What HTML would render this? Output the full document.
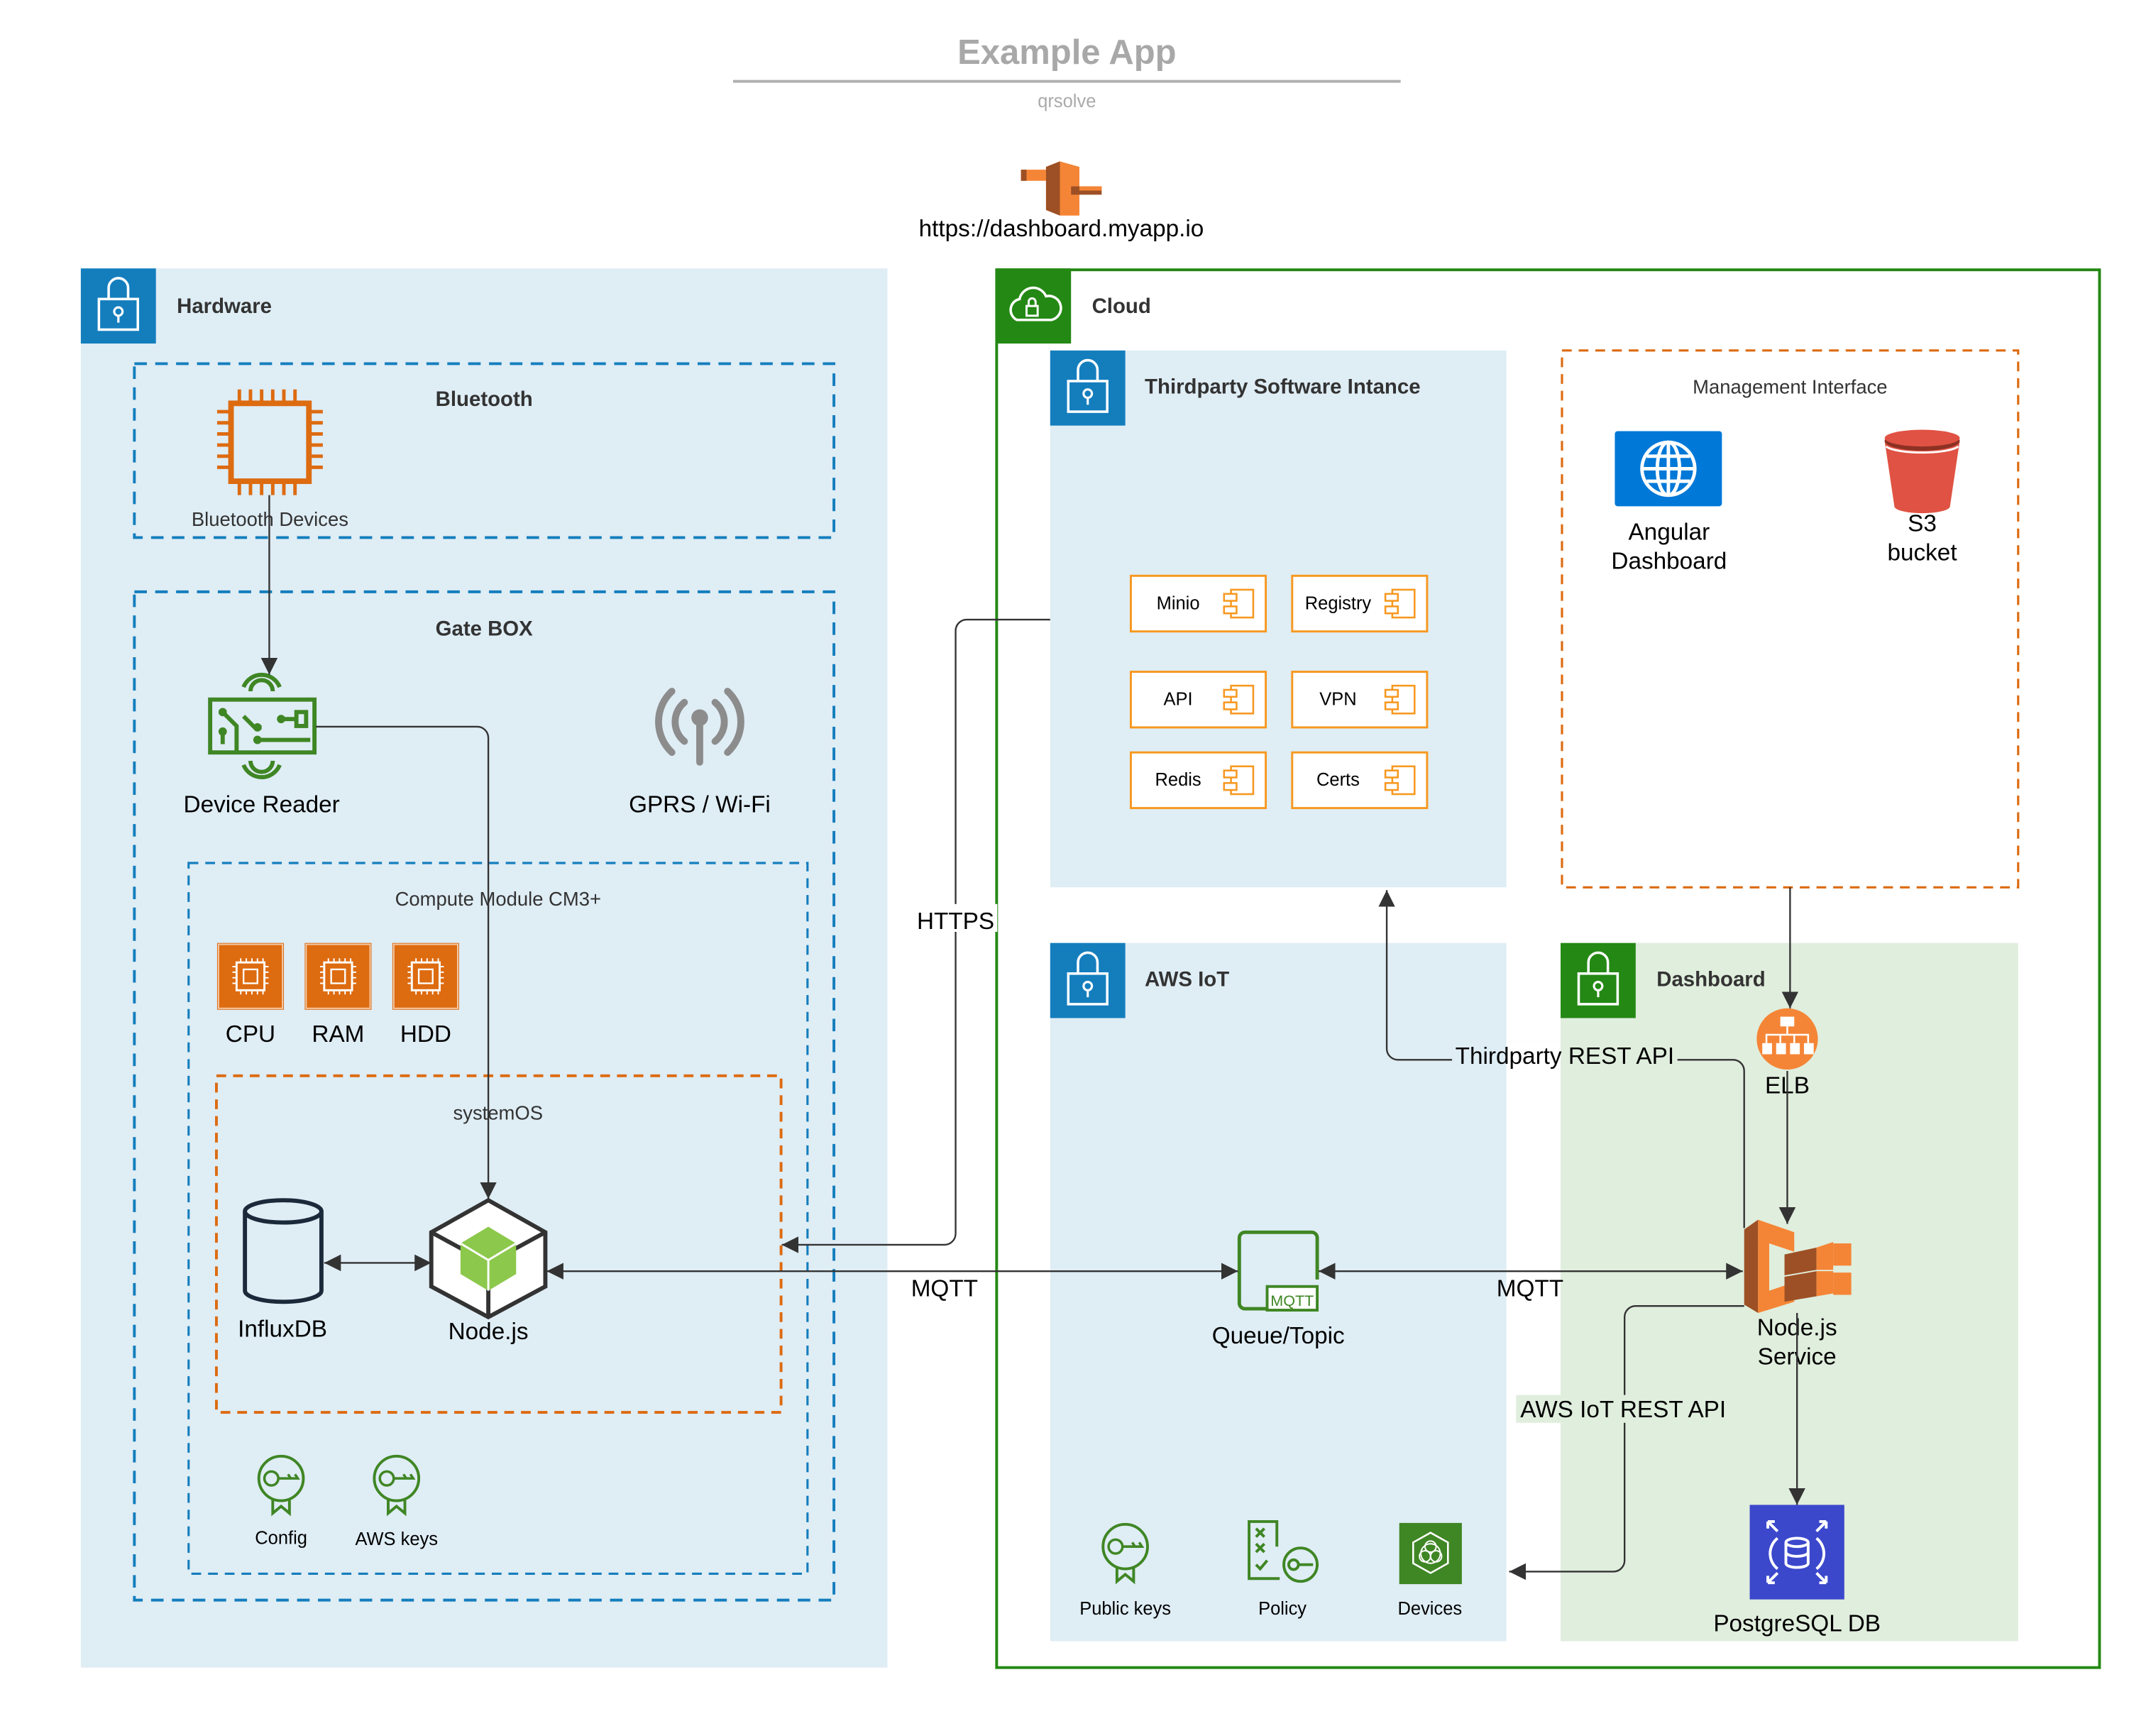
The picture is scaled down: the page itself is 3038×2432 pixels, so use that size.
<!DOCTYPE html>
<html><head><meta charset="utf-8"><style>
html,body{margin:0;padding:0;background:#fff;}
svg{display:block;}
text{font-family:"Liberation Sans",Arial,sans-serif;}
</style></head><body>
<svg width="3038" height="2432" viewBox="0 0 1550 1241" xmlns="http://www.w3.org/2000/svg">
<defs>
<marker id="ar" viewBox="0 0 10 10" refX="10" refY="5" markerWidth="12" markerHeight="12" markerUnits="userSpaceOnUse" orient="auto-start-reverse"><path d="M0,0 L10,5 L0,10 z" fill="#333"/></marker>
<g id="lock"><path d="M20,22 v-8 a7,7 0 0 1 14,0 v8" fill="none" stroke="#fff" stroke-width="1.8"/><rect x="13" y="22" width="28" height="22" fill="none" stroke="#fff" stroke-width="1.8"/><circle cx="27" cy="31" r="3" fill="none" stroke="#fff" stroke-width="1.6"/><line x1="27" y1="34" x2="27" y2="39" stroke="#fff" stroke-width="1.6"/></g>
<g id="comp"><rect x="0" y="0" width="97" height="40" fill="#fff" stroke="#f7981f" stroke-width="1.5"/><rect x="72" y="10" width="16" height="20" fill="none" stroke="#f7981f" stroke-width="1.3"/><rect x="67" y="13" width="9" height="5" fill="#fff" stroke="#f7981f" stroke-width="1.3"/><rect x="67" y="22" width="9" height="5" fill="#fff" stroke="#f7981f" stroke-width="1.3"/></g>
<g id="chip"><rect x="0" y="0" width="48" height="48" fill="#dd6b10"/><rect x="1" y="1" width="46" height="46" fill="none" stroke="#f3c9a6" stroke-width="1"/><rect x="14" y="14" width="20" height="20" fill="none" stroke="#fff" stroke-width="1.5"/><rect x="19" y="19" width="10" height="10" fill="none" stroke="#fff" stroke-width="1.2"/><path d="M17,14v-3M21,14v-3M25,14v-3M29,14v-3M33,14v-3M17,34v3M21,34v3M25,34v3M29,34v3M33,34v3M14,17h-3M14,21h-3M14,25h-3M14,29h-3M34,17h3M34,21h3M34,25h3M34,29h3" stroke="#fff" stroke-width="1"/></g>
<g id="cert"><circle cx="17" cy="17" r="16" fill="none" stroke="#3f8624" stroke-width="2"/><circle cx="10" cy="17" r="5" fill="none" stroke="#3f8624" stroke-width="1.8"/><path d="M15,17 h14 l-2,-3 m-3,3 l-2,-3" fill="none" stroke="#3f8624" stroke-width="1.8"/><path d="M11,32 v10 l6,-5 l6,5 v-10" fill="none" stroke="#3f8624" stroke-width="2"/></g>
</defs>

<text x="767" y="46" text-anchor="middle" font-size="25" font-weight="bold" fill="#a8a8a8">Example App</text>
<line x1="527" y1="58.5" x2="1007" y2="58.5" stroke="#b0b0b0" stroke-width="2"/>
<text x="767" y="77" text-anchor="middle" font-size="13" fill="#aaa">qrsolve</text>

<g>
<rect x="734" y="122" width="20" height="8" fill="#f58536"/><rect x="734" y="122" width="4" height="8" fill="#9d5025"/>
<polygon points="752,120 762,116 776,120 776,155 762,155 752,151" fill="#f58536"/>
<polygon points="752,120 762,116 762,155 752,151" fill="#9d5025"/>
<rect x="770" y="134" width="22" height="6" fill="#9d5025"/><rect x="776" y="134" width="16" height="3" fill="#f58536"/>
</g>
<text x="763" y="170" text-anchor="middle" font-size="17" fill="#000">https://dashboard.myapp.io</text>

<rect x="58" y="193" width="580" height="1006" fill="#dfedf5"/>
<rect x="58" y="193" width="54" height="54" fill="#147ebd"/>
<use href="#lock" x="58" y="193"/>
<text x="127" y="225" font-size="15" font-weight="bold" fill="#333">Hardware</text>

<rect x="96.5" y="261.5" width="503" height="125" fill="none" stroke="#147ebd" stroke-width="2" stroke-dasharray="9,6"/>
<text x="348" y="292" text-anchor="middle" font-size="15" font-weight="bold" fill="#333">Bluetooth</text>
<g stroke="#dd6b10" stroke-width="4" fill="none">
<rect x="166" y="290" width="56" height="56"/>
<path d="M172,290v-10M180,290v-10M188,290v-10M196,290v-10M204,290v-10M212,290v-10M172,346v10M180,346v10M188,346v10M196,346v10M204,346v10M212,346v10M166,296h-10M166,304h-10M166,312h-10M166,320h-10M166,328h-10M166,336h-10M222,296h10M222,304h10M222,312h10M222,320h10M222,328h10M222,336h10" stroke-width="2.5"/>
</g>
<text x="194" y="378" text-anchor="middle" font-size="14" fill="#333">Bluetooth Devices</text>

<rect x="96.5" y="425.5" width="503" height="725" fill="none" stroke="#147ebd" stroke-width="2" stroke-dasharray="9,6"/>
<text x="348" y="457" text-anchor="middle" font-size="15" font-weight="bold" fill="#333">Gate BOX</text>

<g stroke="#3f8624" stroke-width="3" fill="none">
<rect x="151" y="503" width="75" height="38"/>
<path d="M175,494 a14,14 0 0 1 26,0 M180,497 a8,8 0 0 1 16,0 M175,550 a14,14 0 0 0 26,0 M180,547 a8,8 0 0 0 16,0"/>
<path d="M160,512 l10,10 v19 M175,515 l8,8 h5 M185,532 h38 M203,517 h10 M160,525 v10 M213,512 h7 v10 h-7z"/>
</g>
<g fill="#3f8624"><circle cx="160" cy="512" r="3"/><circle cx="185" cy="523" r="3"/><circle cx="185" cy="532" r="3"/><circle cx="160" cy="526" r="3"/><circle cx="202" cy="517" r="3"/></g>
<text x="188" y="584" text-anchor="middle" font-size="17" fill="#000">Device Reader</text>

<g stroke="#8c8c8c" stroke-width="5" fill="none" stroke-linecap="round">
<path d="M483,497 a30,30 0 0 0 0,44 M523,497 a30,30 0 0 1 0,44 M492,505 a18,18 0 0 0 0,28 M514,505 a18,18 0 0 1 0,28"/>
<line x1="503" y1="518" x2="503" y2="548"/>
</g>
<circle cx="503" cy="516" r="6" fill="#8c8c8c"/>
<text x="503" y="584" text-anchor="middle" font-size="17" fill="#000">GPRS / Wi-Fi</text>

<rect x="135.5" y="620.5" width="445" height="511" fill="none" stroke="#147ebd" stroke-width="1.6" stroke-dasharray="7,5"/>
<text x="358" y="651" text-anchor="middle" font-size="14" fill="#333">Compute Module CM3+</text>
<use href="#chip" x="156" y="678"/><use href="#chip" x="219" y="678"/><use href="#chip" x="282" y="678"/>
<text x="180" y="749" text-anchor="middle" font-size="17" fill="#000">CPU</text>
<text x="243" y="749" text-anchor="middle" font-size="17" fill="#000">RAM</text>
<text x="306" y="749" text-anchor="middle" font-size="17" fill="#000">HDD</text>

<rect x="155.5" y="773.5" width="406" height="242" fill="none" stroke="#dd6b10" stroke-width="2" stroke-dasharray="7,5"/>
<text x="358" y="805" text-anchor="middle" font-size="14" fill="#333">systemOS</text>

<g stroke="#1b2a3a" stroke-width="3" fill="none">
<ellipse cx="203.5" cy="871" rx="27.5" ry="8"/>
<path d="M176,871 v57 a27.5,8 0 0 0 55,0 v-57"/>
</g>
<text x="203" y="961" text-anchor="middle" font-size="17" fill="#000">InfluxDB</text>

<polygon points="351,863 392,886 392,925 351,947 310,925 310,886" fill="#fff" stroke="#333" stroke-width="3"/>
<line x1="310" y1="886" x2="332" y2="898" stroke="#333" stroke-width="3"/><line x1="392" y1="886" x2="370" y2="898" stroke="#333" stroke-width="3"/><line x1="351" y1="947" x2="351" y2="925" stroke="#333" stroke-width="3"/>
<polygon points="351,882 371,894 371,916 351,928 331,916 331,894" fill="#8cc84b"/>
<path d="M331,894 L351,906 L371,894 M351,906 V928" stroke="#fff" stroke-width="1.5" fill="none"/>
<text x="351" y="963" text-anchor="middle" font-size="17" fill="#000">Node.js</text>

<use href="#cert" x="185" y="1046"/><use href="#cert" x="268" y="1046"/>
<text x="202" y="1110" text-anchor="middle" font-size="13" fill="#000">Config</text>
<text x="285" y="1111" text-anchor="middle" font-size="13" fill="#000">AWS keys</text>

<rect x="716.5" y="194" width="793" height="1005" fill="#fff" stroke="#248814" stroke-width="2"/>
<rect x="716" y="193" width="54" height="54" fill="#248814"/>
<path d="M731,230 a8,8 0 0 1 2,-15 a10,10 0 0 1 19,-2 a8,8 0 0 1 4,17 z" fill="none" stroke="#fff" stroke-width="1.8"/>
<rect x="738" y="220" width="8" height="7" fill="none" stroke="#fff" stroke-width="1.5"/><path d="M739.5,220 v-3 a2.5,2.5 0 0 1 5,0 v3" fill="none" stroke="#fff" stroke-width="1.5"/>
<text x="785" y="225" font-size="15" font-weight="bold" fill="#333">Cloud</text>

<rect x="755" y="252" width="328" height="386" fill="#dfedf5"/>
<rect x="755" y="252" width="54" height="54" fill="#147ebd"/>
<use href="#lock" x="755" y="252"/>
<text x="823" y="283" font-size="15" font-weight="bold" fill="#333">Thirdparty Software Intance</text>
<use href="#comp" x="813" y="414"/><use href="#comp" x="929" y="414"/>
<use href="#comp" x="813" y="483"/><use href="#comp" x="929" y="483"/>
<use href="#comp" x="813" y="541"/><use href="#comp" x="929" y="541"/>
<g font-size="13" fill="#000" text-anchor="middle">
<text x="847" y="438">Minio</text><text x="962" y="438">Registry</text>
<text x="847" y="507">API</text><text x="962" y="507">VPN</text>
<text x="847" y="565">Redis</text><text x="962" y="565">Certs</text>
</g>

<rect x="1123" y="252" width="328" height="386" fill="none" stroke="#dd6b10" stroke-width="1.6" stroke-dasharray="7,5"/>
<text x="1287" y="283" text-anchor="middle" font-size="14" fill="#333">Management Interface</text>
<rect x="1161" y="310" width="77" height="54" rx="2" fill="#0078d7"/>
<g stroke="#fff" stroke-width="2.5" fill="none"><circle cx="1199.5" cy="337" r="19"/><ellipse cx="1199.5" cy="337" rx="8" ry="19"/><line x1="1199.5" y1="318" x2="1199.5" y2="356"/><line x1="1181" y1="337" x2="1218" y2="337"/><line x1="1184" y1="328" x2="1215" y2="328"/><line x1="1184" y1="346" x2="1215" y2="346"/></g>
<text x="1200" y="388" text-anchor="middle" font-size="17" fill="#000">Angular</text>
<text x="1200" y="409" text-anchor="middle" font-size="17" fill="#000">Dashboard</text>
<path d="M1355,317 L1362,364 a20,5 0 0 0 40,0 L1409,317 z" fill="#e05243"/>
<ellipse cx="1382" cy="317" rx="27" ry="7" fill="#8c3123"/>
<ellipse cx="1382" cy="315" rx="27" ry="6" fill="#e05243"/>
<path d="M1356,321 a27,6 0 0 0 52,0" stroke="#fff" stroke-width="1.5" fill="none"/>
<text x="1382" y="382" text-anchor="middle" font-size="17" fill="#000">S3</text>
<text x="1382" y="403" text-anchor="middle" font-size="17" fill="#000">bucket</text>

<rect x="755" y="678" width="328" height="502" fill="#dfedf5"/>
<rect x="755" y="678" width="54" height="54" fill="#147ebd"/>
<use href="#lock" x="755" y="678"/>
<text x="823" y="709" font-size="15" font-weight="bold" fill="#333">AWS IoT</text>

<rect x="1122" y="678" width="329" height="502" fill="#e0eedd"/>
<rect x="1122" y="678" width="54" height="54" fill="#248814"/>
<use href="#lock" x="1122" y="678"/>
<text x="1191" y="709" font-size="15" font-weight="bold" fill="#333">Dashboard</text>

<path d="M914,941 H895 a4,4 0 0 1 -4,-4 V890 a4,4 0 0 1 4,-4 H943 a4,4 0 0 1 4,4 V920" fill="none" stroke="#3f8624" stroke-width="2.5"/>
<rect x="911" y="925" width="36" height="17" fill="#fff" stroke="#3f8624" stroke-width="2"/>
<text x="929" y="939" text-anchor="middle" font-size="11" fill="#3f8624" font-family="Liberation Mono, monospace">MQTT</text>
<text x="919" y="966" text-anchor="middle" font-size="17" fill="#000">Queue/Topic</text>

<use href="#cert" x="792" y="1095"/>
<text x="809" y="1161" text-anchor="middle" font-size="13" fill="#000">Public keys</text>
<g stroke="#3f8624" stroke-width="2" fill="none">
<path d="M920,1135 H898 V1094 H918 V1112"/>
<path d="M903,1099 l6,6 m0,-6 l-6,6 M903,1110 l6,6 m0,-6 l-6,6 M903,1125 l3,3 l5,-6"/>
<circle cx="935" cy="1125" r="12"/><circle cx="930" cy="1125" r="3.5"/><path d="M934,1125 h10"/>
</g>
<text x="922" y="1161" text-anchor="middle" font-size="13" fill="#000">Policy</text>
<rect x="1006" y="1095" width="45" height="44" fill="#3f8624"/>
<polygon points="1028.5,1102 1041,1109 1041,1124 1028.5,1131 1016,1124 1016,1109" fill="none" stroke="#fff" stroke-width="1.3"/>
<g stroke="#fff" stroke-width="1" fill="none"><circle cx="1028.5" cy="1112" r="4"/><circle cx="1024.5" cy="1119" r="4"/><circle cx="1032.5" cy="1119" r="4"/><circle cx="1028.5" cy="1117" r="7"/></g>
<text x="1028" y="1161" text-anchor="middle" font-size="13" fill="#000">Devices</text>

<circle cx="1285" cy="747" r="22" fill="#f58536"/>
<g fill="#fff"><rect x="1280" y="731" width="10" height="7"/><rect x="1267" y="750" width="7" height="8"/><rect x="1277" y="750" width="7" height="8"/><rect x="1287" y="750" width="7" height="8"/><rect x="1297" y="750" width="7" height="8"/></g>
<path d="M1285,738v6 M1270,750v-6h30v6 M1280,744v6 M1290,744v6" stroke="#fff" stroke-width="1.3" fill="none"/>
<text x="1285" y="786" text-anchor="middle" font-size="17" fill="#000">ELB</text>

<polygon points="1254,884 1264,877 1264,944 1254,938" fill="#9d5025"/>
<polygon points="1264,877 1290,886 1290,900 1272,894 1272,928 1290,922 1290,936 1264,944" fill="#f58536"/>
<polygon points="1283,902 1306,897 1306,913 1283,917" fill="#9d5025"/>
<polygon points="1306,897 1318,893 1318,913 1306,913" fill="#f58536"/>
<polygon points="1283,918 1306,914 1306,932 1283,936" fill="#9d5025"/>
<polygon points="1306,914 1318,914 1318,930 1306,932" fill="#f58536"/>
<rect x="1318" y="894" width="13" height="16" fill="#f58536"/><rect x="1318" y="915" width="13" height="16" fill="#f58536"/>
<text x="1292" y="960" text-anchor="middle" font-size="17" fill="#000">Node.js</text>
<text x="1292" y="981" text-anchor="middle" font-size="17" fill="#000">Service</text>

<rect x="1258" y="1082" width="68" height="68" fill="#3b48cc"/>
<g stroke="#fff" stroke-width="2" fill="none">
<ellipse cx="1292" cy="1109" rx="8" ry="3"/><path d="M1284,1109 v15 a8,3 0 0 0 16,0 v-15 M1284,1116 a8,3 0 0 0 16,0"/>
<path d="M1278,1106 a14,14 0 0 0 0,22 M1306,1106 a14,14 0 0 1 0,22"/>
<path d="M1271,1094 l7,7 m-7,-7 v5 m0,-5 h5 M1313,1094 l-7,7 m7,-7 v5 m0,-5 h-5 M1271,1138 l7,-7 m-7,7 v-5 m0,5 h5 M1313,1138 l-7,-7 m7,7 v-5 m0,5 h-5"/>
</g>
<text x="1292" y="1173" text-anchor="middle" font-size="17" fill="#000">PostgreSQL DB</text>

<g stroke="#333" stroke-width="1.2" fill="none">
<path d="M193.5,356 V485" marker-end="url(#ar)"/>
<path d="M227,522.5 H343 a8,8 0 0 1 8,8 V862" marker-end="url(#ar)"/>
<path d="M233,908 H310" marker-start="url(#ar)" marker-end="url(#ar)"/>
<path d="M755,445.5 H695 a8,8 0 0 0 -8,8 V887 a8,8 0 0 1 -8,8 H562" marker-end="url(#ar)"/>
<path d="M393,914 H890" marker-start="url(#ar)" marker-end="url(#ar)"/>
<path d="M948,914 H1253" marker-start="url(#ar)" marker-end="url(#ar)"/>
<path d="M1287,638 V725" marker-end="url(#ar)"/>
<path d="M1285,770 V880" marker-end="url(#ar)"/>
<path d="M1292,944 V1082" marker-end="url(#ar)"/>
<path d="M1254,883 V770 a8,8 0 0 0 -8,-8 H1005 a8,8 0 0 1 -8,-8 V640" marker-end="url(#ar)"/>
<path d="M1254,939 H1176 a8,8 0 0 0 -8,8 V1122 a8,8 0 0 1 -8,8 H1085" marker-end="url(#ar)"/>
</g>
<rect x="657" y="650" width="60" height="20" fill="#fff"/>
<text x="687" y="668" text-anchor="middle" font-size="17" fill="#000">HTTPS</text>
<text x="679" y="932" text-anchor="middle" font-size="17" fill="#000">MQTT</text>
<text x="1100" y="932" text-anchor="middle" font-size="17" fill="#000">MQTT</text>
<rect x="1044" y="749" width="162" height="20" fill="#e0eedd"/><rect x="1044" y="749" width="39" height="20" fill="#dfedf5"/><rect x="1083" y="749" width="39" height="20" fill="#fff"/>
<text x="1125" y="765" text-anchor="middle" font-size="17" fill="#000">Thirdparty REST API</text>
<rect x="1090" y="1003" width="156" height="20" fill="#e0eedd"/>
<text x="1167" y="1019" text-anchor="middle" font-size="17" fill="#000">AWS IoT REST API</text>
</svg>
</body></html>
